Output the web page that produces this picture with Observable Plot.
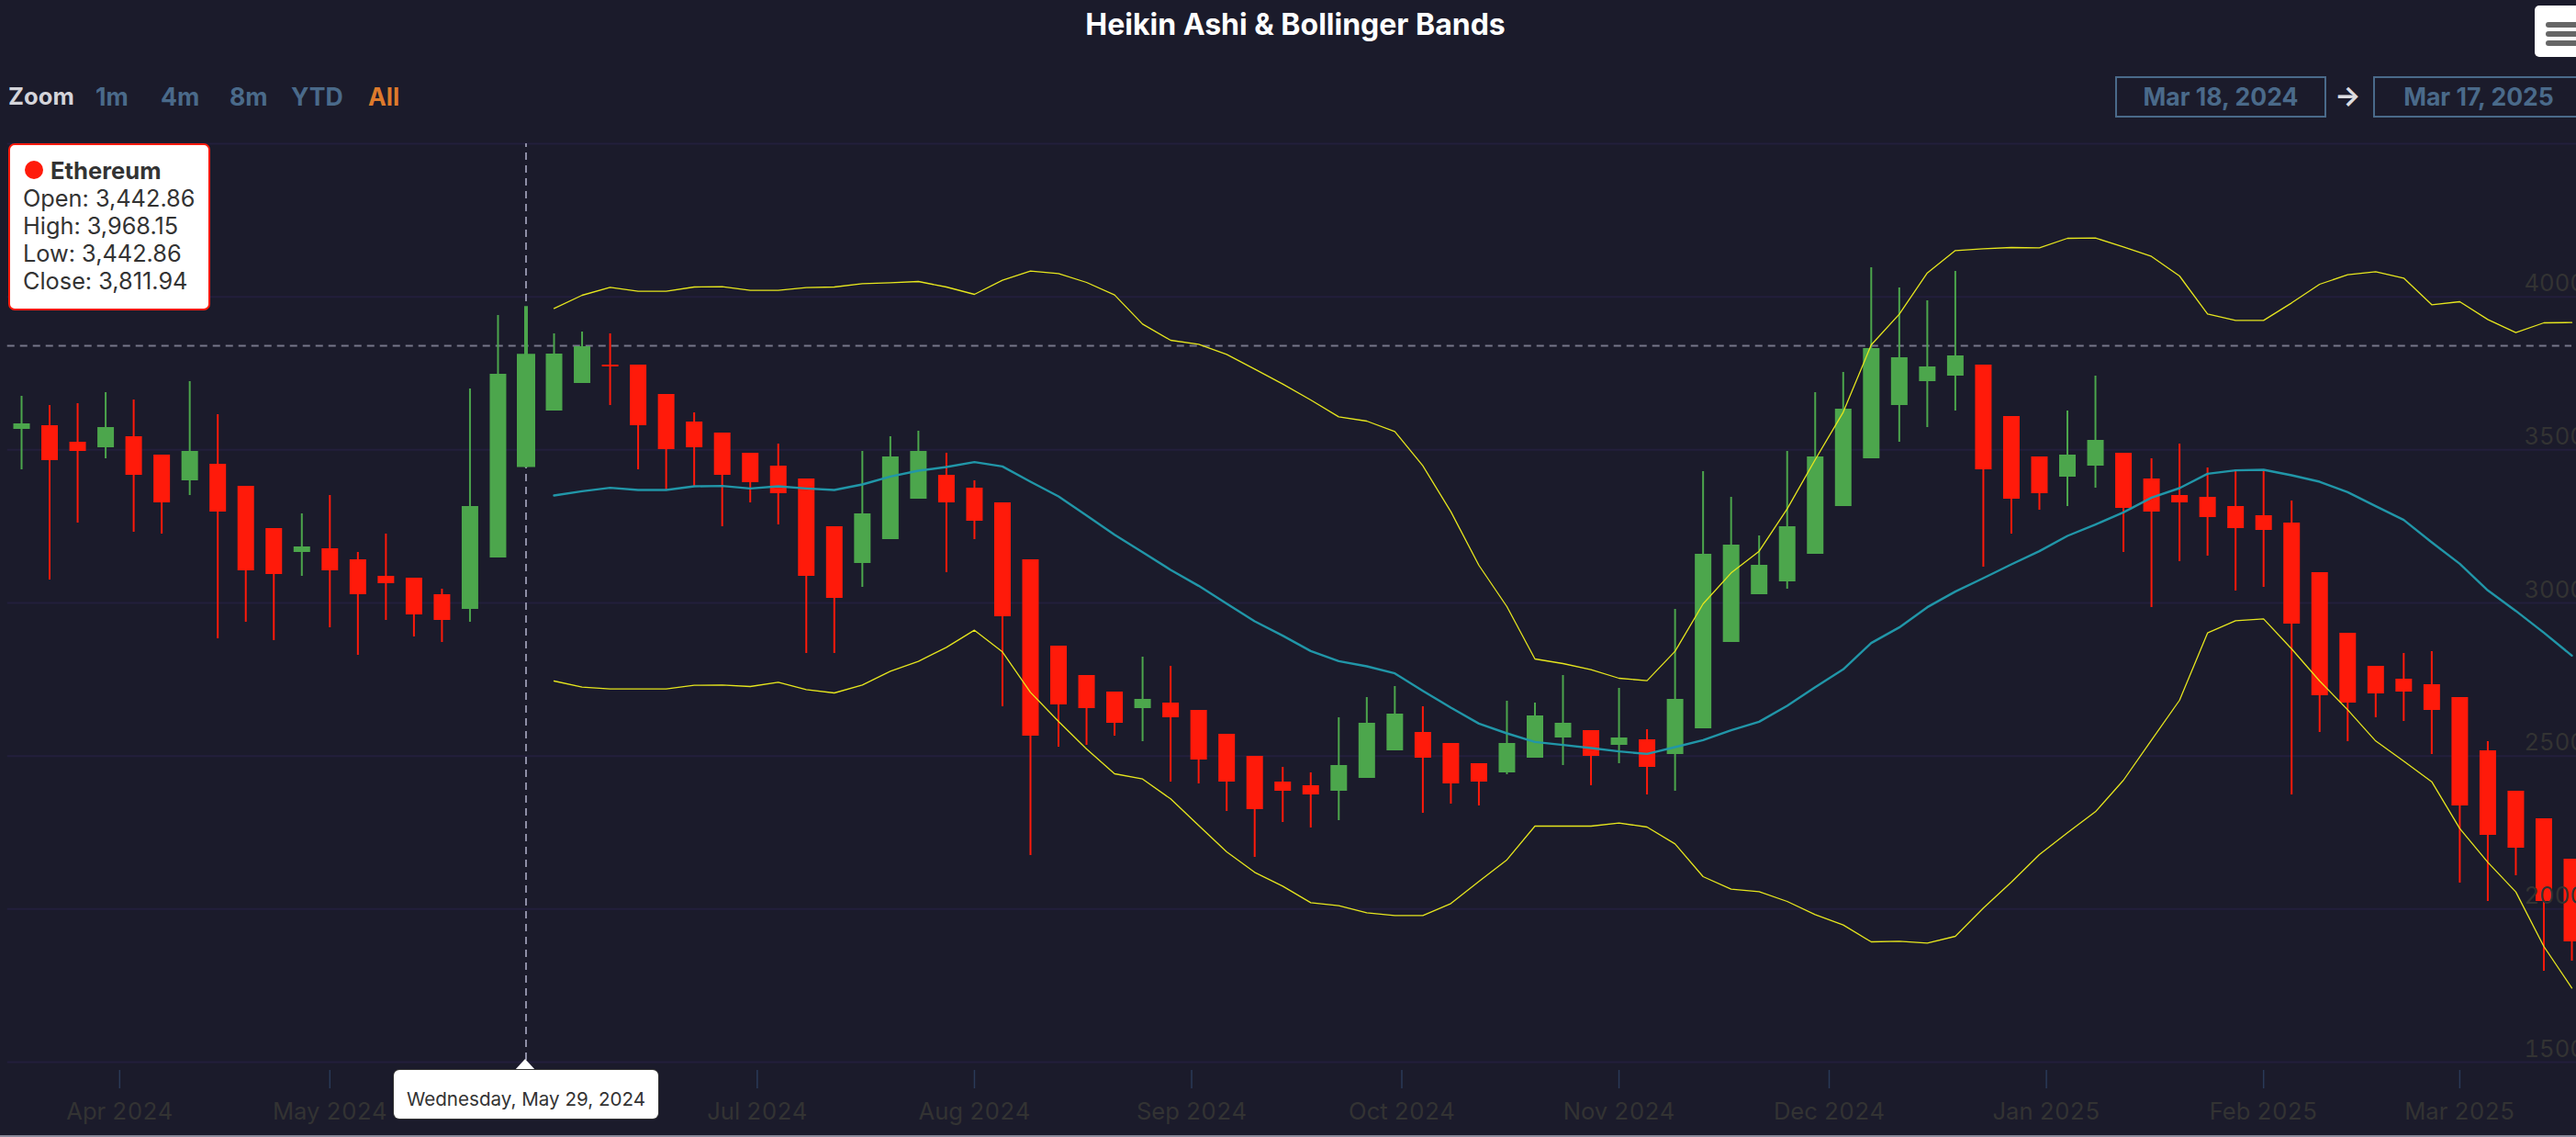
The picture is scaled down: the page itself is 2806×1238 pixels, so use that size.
<!DOCTYPE html>
<html>
<head>
<meta charset="utf-8">
<title>Heikin Ashi & Bollinger Bands</title>
<script src="https://cdn.jsdelivr.net/npm/d3@7"></script>
<script src="https://cdn.jsdelivr.net/npm/@observablehq/plot@0.6"></script>
<style>
html,body{margin:0;padding:0;background:#1b1b2b;width:2806px;height:1238px;overflow:hidden;font-family:Inter,"Noto Sans",sans-serif;}
#chart{position:absolute;left:0;top:0;}
.abs{position:absolute;white-space:nowrap;line-height:1;}
#title{left:0;width:2822px;top:11px;text-align:center;color:#fff;font-weight:700;font-size:32px;}
#menu{left:2761px;top:6px;width:60px;height:56px;background:#fff;border-radius:5px;}
#menu i{position:absolute;left:12px;width:40px;height:6px;border-radius:3px;background:#666;}
.rs{top:92px;font-size:26.6px;font-weight:650;color:#4a6a8a;}
.datebox{top:83px;height:41px;width:226px;border:2px solid #4a6a8a;color:#4a6a8a;font-size:26.6px;font-weight:650;text-align:center;line-height:41px;}
#arrow{left:2543px;top:89px;font-size:30px;color:#dcdce0;font-weight:700;}
#tip{left:9px;top:156px;width:216px;height:178px;background:#fff;border:2px solid #ff1a0a;border-radius:7px;color:#333;font-size:25.3px;}
#tip div{position:absolute;left:14px;line-height:30px;white-space:nowrap;}
#dot{position:absolute;left:16px;top:17px;width:20px;height:20px;border-radius:50%;background:#ff1a0a;}
#dateLabel{left:429px;top:1165px;width:288px;height:53px;background:#fff;border-radius:6px;color:#333;font-size:20.6px;text-align:center;line-height:63px;box-shadow:0 0 0 1px #333;}
#dateArrow{left:560px;top:1153px;width:0;height:0;border-left:12px solid transparent;border-right:12px solid transparent;border-bottom:13px solid #fff;}
#baseLine{left:0;top:1236px;width:2806px;height:2px;background:#8a8a9a;}
</style>
</head>
<body>
<div id="chart"></div>
<div class="abs" id="title">Heikin Ashi &amp; Bollinger Bands</div>
<div class="abs" id="menu"><i style="top:18px"></i><i style="top:28px"></i><i style="top:38px"></i></div>
<div class="abs rs" style="left:9px;color:#d4d4da;font-weight:700;font-size:25.6px">Zoom</div>
<div class="abs rs" style="left:104px">1m</div>
<div class="abs rs" style="left:175px">4m</div>
<div class="abs rs" style="left:250px">8m</div>
<div class="abs rs" style="left:317px">YTD</div>
<div class="abs rs" style="left:401px;color:#dd7a2c">All</div>
<div class="abs datebox" style="left:2304px">Mar 18, 2024</div>
<div class="abs" id="arrow">→</div>
<div class="abs datebox" style="left:2585px">Mar 17, 2025</div>
<div id="tipHost"></div>
<div class="abs" id="baseLine"></div>
<script>
// 4-day Heikin Ashi candles from 2024-03-18 to 2025-03-17
const seriesName = "Ethereum";
const hoverIndex = 18;
const open = [3567,3579,3525,3507,3543,3483,3399,3453,3381,3243,3165,3177,3141,3087,3081,3027,2979,3147,3442.86,3627,3717,3777,3777,3681,3591,3555,3489,3447,3405,3249,3129,3207,3339,3417,3375,3327,3141,2859,2763,2709,2655,2673,2649,2571,2499,2415,2403,2385,2427,2517,2577,2541,2475,2445,2493,2559,2583,2535,2553,2505,2589,2871,3027,3069,3159,3315,3471,3645,3723,3741,3777,3609,3477,3411,3447,3489,3405,3351,3345,3315,3285,3261,3099,2901,2793,2751,2733,2691,2517,2385,2295,2163];
const close = [3585,3465,3495,3573,3417,3327,3495,3297,3105,3093,3183,3105,3027,3063,2961,2943,3315,3747,3811.94,3813,3837,3771,3579,3501,3507,3417,3393,3357,3087,3015,3291,3477,3495,3327,3267,2955,2565,2667,2655,2607,2685,2625,2487,2415,2325,2385,2373,2469,2607,2637,2493,2409,2415,2541,2631,2607,2499,2559,2463,2685,3159,3189,3123,3249,3477,3633,3831,3801,3771,3807,3435,3339,3357,3483,3531,3309,3297,3327,3279,3243,3237,2931,2697,2673,2703,2709,2649,2337,2241,2199,2025,1893];
const high = [3675,3645,3651,3687,3663,3483,3723,3615,3381,3243,3291,3351,3165,3225,3081,3045,3699,3939,3968.15,3879,3885,3879,3777,3681,3621,3555,3489,3519,3405,3249,3495,3543,3561,3489,3399,3327,3141,2859,2763,2709,2823,2793,2649,2571,2499,2463,2445,2625,2691,2727,2661,2541,2475,2679,2673,2763,2583,2721,2586,2979,3429,3345,3219,3495,3687,3753,4095,4029,3987,4083,3777,3609,3477,3627,3741,3489,3471,3519,3441,3435,3435,3333,3099,2901,2793,2835,2841,2691,2547,2385,2295,2163];
const low = [3435,3075,3261,3471,3231,3225,3351,2883,2937,2877,3087,2919,2829,2943,2889,2871,2937,3147,3442.86,3627,3717,3645,3435,3369,3381,3249,3327,3255,2835,2835,3051,3207,3339,3099,3207,2661,2175,2529,2535,2565,2547,2415,2409,2319,2169,2283,2265,2289,2427,2517,2313,2343,2337,2439,2493,2469,2403,2475,2373,2385,2589,2871,3027,3045,3159,3315,3471,3525,3573,3627,3117,3225,3303,3315,3375,3165,2985,3135,3153,3039,3051,2373,2577,2547,2625,2613,2505,2085,2025,2109,1797,1830];
// Bollinger bands begin at the 20th candle
const bandStart = 19;
const upper = [3962,4005,4031,4018,4018,4032,4033,4021,4021,4030,4032,4043,4046,4050,4032,4008,4054,4084,4076,4047,4006,3911,3858,3845,3812,3764,3715,3663,3608,3594,3560,3448,3298,3123,2988,2817,2802,2782,2754,2746,2842,2997,3098,3169,3307,3468,3623,3843,3943,4078,4151,4157,4161,4160,4191,4192,4163,4132,4068,3944,3923,3923,3980,4041,4072,4082,4061,3974,3984,3926,3883,3915,3916];
const middle = [3351,3365,3376,3369,3369,3381,3382,3374,3381,3374,3369,3387,3413,3432,3444,3460,3446,3396,3348,3286,3223,3166,3108,3056,2998,2940,2893,2843,2810,2793,2770,2713,2658,2606,2574,2546,2536,2526,2515,2507,2529,2552,2584,2612,2664,2725,2783,2869,2920,2986,3037,3081,3126,3169,3219,3256,3296,3344,3375,3422,3433,3435,3417,3396,3362,3316,3271,3198,3128,3041,2974,2903,2828];
const lower = [2745,2725,2719,2719,2719,2731,2732,2727,2741,2717,2706,2732,2777,2809,2855,2911,2840,2708,2613,2523,2442,2425,2360,2273,2187,2120,2075,2021,2011,1988,1979,1979,2018,2090,2161,2271,2271,2271,2281,2268,2213,2106,2065,2057,2025,1982,1948,1893,1895,1889,1911,2003,2088,2178,2249,2318,2421,2552,2682,2902,2942,2948,2850,2745,2651,2549,2483,2416,2263,2153,2056,1878,1742];
const yTicks = [1500,2000,2500,3000,3500,4000];
const gridTicks = [1500,2000,2500,3000,3500,4000,4500];
const monthTicks = ["2024-04-01","2024-05-01","2024-07-01","2024-08-01","2024-09-01","2024-10-01","2024-11-01","2024-12-01","2025-01-01","2025-02-01","2025-03-01"].map(s => new Date(s+"T00:00:00Z"));
const crossPrice = 3840;

const upColor = "#4ca64c", downColor = "#ff1a0a", bandColor = "#e6e61e", midColor = "#2196a8";
const start = new Date("2024-03-18T00:00:00Z");
const dateAt = i => d3.utcDay.offset(start, 4*i);
const candles = open.map((o,i) => ({i, date: dateAt(i), open:o, close:close[i], high:high[i], low:low[i], color: close[i] >= o ? upColor : downColor}));
const gridFrom = new Date("2024-03-16T00:00:00Z"), gridTo = new Date("2025-03-19T00:00:00Z");
const bandLine = (vals, stroke, strokeWidth) => Plot.line(vals, {x:(d,i)=>dateAt(i+bandStart), y:d=>d, stroke, strokeWidth});

const plot = Plot.plot({
  width:2806, height:1238,
  marginTop:0, marginRight:0, marginLeft:0, marginBottom:73,
  style:{background:"transparent", fontFamily:"Inter, 'Noto Sans', sans-serif"},
  x:{type:"utc", domain:[start, dateAt(91)], range:[23, 2801], axis:null},
  y:{type:"linear", domain:[1500,4500], range:[1156,156], axis:null},
  marks:[
    Plot.ruleY(gridTicks,{y:d=>d, x1:gridFrom, x2:gridTo, stroke:"#231f3c", strokeWidth:2}),
    Plot.ruleY([crossPrice],{y:d=>d, x1:gridFrom, x2:dateAt(91), stroke:"#77778a", strokeWidth:2, strokeDasharray:"8,6"}),
    Plot.ruleX([candles[hoverIndex]],{x:"date", y1:1506, y2:4500, stroke:"#8e8ea6", strokeWidth:2, strokeDasharray:"8,6"}),
    Plot.ruleX(candles,{x:"date", y1:"low", y2:"high", stroke:"color", strokeWidth:d=>d.i===hoverIndex?4:2}),
    Plot.ruleX(candles,{x:"date", y1:"open", y2:"close", stroke:"color", strokeWidth:d=>d.i===hoverIndex?20:18}),
    bandLine(upper, bandColor, 1.3),
    bandLine(lower, bandColor, 1.3),
    bandLine(middle, midColor, 2.4),
    Plot.axisY(yTicks,{anchor:"right", tickSize:0, tickPadding:0, dx:-57, dy:-14, textAnchor:"start", fill:"#333333", fontSize:25.6, tickFormat:d=>String(d), label:null}),
    Plot.axisX(monthTicks,{anchor:"bottom", tickSize:20, tickPadding:15, stroke:"#2a3a58", fill:"#333333", strokeWidth:1.5, fontSize:25.6, tickFormat:d3.utcFormat("%b %Y"), label:null})
  ]
});
document.getElementById("chart").appendChild(plot);

// Hover tooltip and x-axis date label, read from the hovered candle
const h = candles[hoverIndex], fmt = d3.format(",.2f");
document.getElementById("tipHost").innerHTML =
  `<div class="abs" id="tip"><span id="dot"></span>`+
  `<div style="top:13px;left:44px;font-weight:700;font-size:25.6px;color:#333">${seriesName}</div>`+
  `<div style="top:43px">Open: ${fmt(h.open)}</div>`+
  `<div style="top:73px">High: ${fmt(h.high)}</div>`+
  `<div style="top:103px">Low: ${fmt(h.low)}</div>`+
  `<div style="top:133px">Close: ${fmt(h.close)}</div></div>`+
  `<div class="abs" id="dateArrow"></div>`+
  `<div class="abs" id="dateLabel">${d3.utcFormat("%A, %b %-d, %Y")(new Date("2024-05-29T00:00:00Z"))}</div>`;
</script>
</body>
</html>
